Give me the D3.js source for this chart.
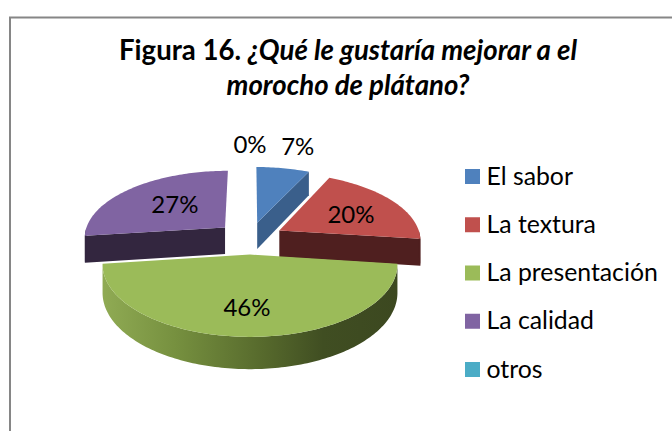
<!DOCTYPE html>
<html><head><meta charset="utf-8">
<script src="https://cdn.jsdelivr.net/npm/d3@7"></script>
<style>html,body{margin:0;padding:0;background:#fff;overflow:hidden}svg{display:block}text{font-family:Lato,"Open Sans",sans-serif;fill:#000}</style>
</head><body><svg id="c" width="672" height="431"></svg>
<script>
const categories = ["El sabor","La textura","La presentación","La calidad","otros"];
const values = [7,20,46,27,0];
const topColors = ["#4f81bd","#c0504d","#9bbb59","#8064a2","#4bacc6"];
const wallColors = ["#3a5f8b","#4f1f1f","#5f7530","#33263f","#2f6b7b"];
const titleLines = [[["Figura 16. ","normal"],["¿Qué le gustaría mejorar a el","italic"]],[["morocho de plátano?","italic"]]];

const svg = d3.select("#c");
svg.append("rect").attr("x",10).attr("y",17.5).attr("width",700).attr("height",450)
  .attr("fill","#fff").attr("stroke","#868686").attr("stroke-width",2);

const defs = svg.append("defs");
const grad = defs.append("linearGradient").attr("id","rim").attr("gradientUnits","userSpaceOnUse")
  .attr("x1",102).attr("x2",397).attr("y1",0).attr("y2",0);
[[0,"#90ab54"],[0.25,"#76903f"],[0.55,"#56692c"],[0.75,"#404e22"],[1,"#3c4820"]].forEach(s=>grad.append("stop").attr("offset",s[0]).attr("stop-color",s[1]));

// perspective projection of the pie's disc
const cx=250, cy=238, R=141.5, H=66.8, p=0.131, explode=0.24, depth=27;
function proj(u,v,down){ const w=1/(1+p*v); return [cx+R*u*w, cy-H*v*w+(down?depth*w:0)]; }
const arcs = d3.pie().sort(null).startAngle(0).endAngle(2*Math.PI)(values);
arcs.forEach(a=>{ a.mid=(a.startAngle+a.endAngle)/2; a.ox=explode*Math.sin(a.mid); a.oy=explode*Math.cos(a.mid); });
const pt=(a,r,t,down)=>proj(a.ox+r*Math.sin(t),a.oy+r*Math.cos(t),down);
const samples=(t0,t1)=>{const n=Math.max(2,Math.ceil((t1-t0)/0.02));return d3.range(n+1).map(i=>t0+(t1-t0)*i/n);};
const line=d3.line();
const g=svg.append("g");

// draw order: back slices first, the front slice last
[0,3,1,2].forEach(i=>{
  const a=arcs[i];
  const wall=(t)=>[pt(a,0,0,false),pt(a,1,t,false),pt(a,1,t,true),pt(a,0,0,true)];
  if(Math.sin(a.endAngle)>1e-6) g.append("path").attr("d",line(wall(a.endAngle))+"Z").attr("fill",wallColors[i]);
  if(Math.sin(a.startAngle)<-1e-6) g.append("path").attr("d",line(wall(a.startAngle))+"Z").attr("fill",wallColors[i]);
  const t0=Math.max(a.startAngle,Math.PI/2), t1=Math.min(a.endAngle,3*Math.PI/2);
  if(t1>t0){
    const ts=samples(t0,t1);
    const poly=ts.map(t=>pt(a,1,t,false)).concat(ts.slice().reverse().map(t=>pt(a,1,t,true)));
    g.append("path").attr("d",line(poly)+"Z").attr("fill",i===2?"url(#rim)":wallColors[i]);
  }
  const top=[pt(a,0,0,false)].concat(samples(a.startAngle,a.endAngle).map(t=>pt(a,1,t,false)));
  g.append("path").attr("d",line(top)+"Z").attr("fill",topColors[i]);
});

// data labels
const total=d3.sum(values);
const labelNudge=[[4,0],[2,1],[-3,5],[8,0],[0,0]];
const labelR=a=>a.value/total<0.1?1.49:0.6;
svg.append("g").selectAll("text").data(arcs).join("text")
  .attr("text-anchor","middle").attr("dominant-baseline","central").attr("font-size",24)
  .attr("x",(a,i)=>pt(a,labelR(a),a.mid,false)[0]+labelNudge[i][0])
  .attr("y",(a,i)=>pt(a,labelR(a),a.mid,false)[1]+labelNudge[i][1])
  .text(a=>Math.round(a.value/total*100)+"%");

// title
const tg=svg.append("g");
titleLines.forEach((ln,i)=>{
  const t=tg.append("text").attr("x",348).attr("y",60+i*35).attr("text-anchor","middle")
    .attr("font-size",27.6).attr("font-weight","700");
  ln.forEach(s=>t.append("tspan").attr("font-style",s[1]).text(s[0]));
});

// legend
const leg=d3.scalePoint().domain(categories).range([176.5,369.5]);
const lg=svg.append("g").selectAll("g").data(categories).join("g").attr("transform",d=>`translate(465,${leg(d)})`);
lg.append("rect").attr("y",-7.5).attr("width",15).attr("height",15).attr("fill",(d,i)=>topColors[i]);
lg.append("text").attr("x",21.5).attr("y",8).attr("font-size",24.8).text(d=>d);
</script></body></html>
